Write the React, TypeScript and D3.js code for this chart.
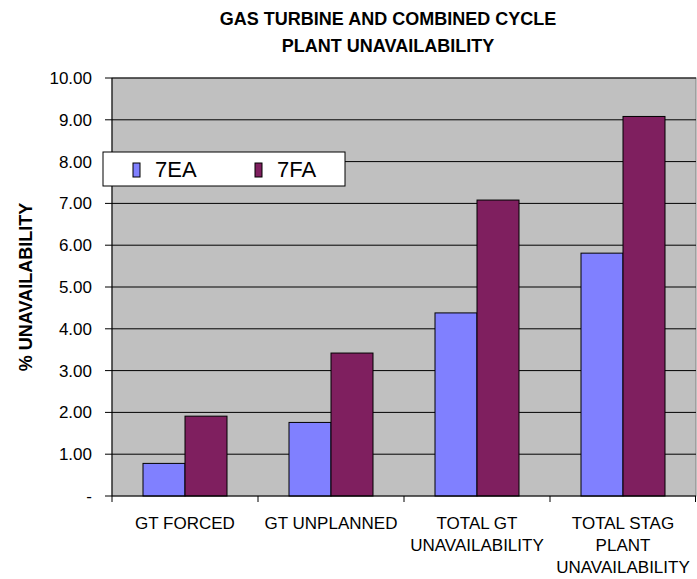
import React from 'react';
import * as d3 from 'd3';

// chart data
const categories = [['GT FORCED'], ['GT UNPLANNED'], ['TOTAL GT', 'UNAVAILABILITY'], ['TOTAL STAG', 'PLANT', 'UNAVAILABILITY']];
const seriesNames = ['7EA', '7FA'];
const values7EA = [0.78, 1.76, 4.38, 5.81];
const values7FA = [1.91, 3.42, 7.08, 9.08];
const yTicks = [0, 1, 2, 3, 4, 5, 6, 7, 8, 9, 10];
const colors = ['#8080FF', '#7F1F5F'];

const W = 697;
const H = 579;
const m = {left: 112, right: 1, top: 78, bottom: 83};
const font = 'Liberation Sans, Arial, sans-serif';

const App = () => {
    const x = d3.scaleBand<number>()
        .domain(d3.range(categories.length))
        .range([m.left, W - m.right]);
    const y = d3.scaleLinear().domain([0, 10]).range([H - m.bottom, m.top]);
    const bw = x.bandwidth() * 42 / 146;
    const seriesVals = [values7EA, values7FA];
    const fmt = (v: number) => (v === 0 ? '-' : d3.format('.2f')(v));

    return (
        <svg width={W} height={H} style={{position: 'absolute', left: 0, top: 0, background: '#fff'}} fontFamily={font}>
            <text x={388} y={25} textAnchor="middle" fontWeight="bold" fontSize={18}>GAS TURBINE AND COMBINED CYCLE</text>
            <text x={388} y={51.5} textAnchor="middle" fontWeight="bold" fontSize={18}>PLANT UNAVAILABILITY</text>

            {/* plot area */}
            <rect x={m.left} y={m.top} width={W - m.right - m.left} height={y(0) - m.top} fill="#C0C0C0" stroke="#808080" />
            {yTicks.filter(t => t > 0).map(t => (
                <line key={t} x1={m.left} x2={W - m.right} y1={y(t)} y2={y(t)} stroke="#000" />
            ))}

            {/* bars */}
            {categories.map((c, i) => {
                const x0 = (x(i) as number) + (x.bandwidth() - bw * 2) / 2;
                return seriesVals.map((vals, s) => (
                    <rect key={i + '-' + s} x={x0 + s * bw} y={y(vals[i])} width={bw} height={y(0) - y(vals[i])}
                          fill={colors[s]} stroke="#000" strokeWidth={1} />
                ));
            })}

            {/* y axis */}
            <line x1={m.left} x2={m.left} y1={m.top} y2={y(0)} stroke="#000" />
            {yTicks.map(t => (
                <g key={t}>
                    <line x1={m.left - 7} x2={m.left} y1={y(t)} y2={y(t)} stroke="#000" />
                    <text x={92} y={y(t) + 6} textAnchor="end" fontSize={17}>{fmt(t)}</text>
                </g>
            ))}
            <text transform={`translate(32,${(m.top + y(0)) / 2}) rotate(-90)`} textAnchor="middle" fontWeight="bold" fontSize={18}>% UNAVAILABILITY</text>

            {/* x axis */}
            <line x1={m.left} x2={W - m.right} y1={y(0)} y2={y(0)} stroke="#000" />
            {d3.range(categories.length + 1).map(i => {
                const xx = i < categories.length ? (x(i) as number) : W - m.right - 0.5;
                return <line key={i} x1={xx} x2={xx} y1={y(0)} y2={y(0) + 6} stroke="#000" />;
            })}
            {categories.map((lines, i) => (
                <text key={i} x={(x(i) as number) + x.bandwidth() / 2} textAnchor="middle" fontSize={17}>
                    {lines.map((l, j) => (
                        <tspan key={j} x={(x(i) as number) + x.bandwidth() / 2} y={529 + j * 22}>{l}</tspan>
                    ))}
                </text>
            ))}

            {/* legend */}
            <rect x={103} y={152} width={242} height={34} fill="#fff" stroke="#000" />
            {seriesNames.map((n, s) => (
                <g key={n} transform={`translate(${133 + s * 122},0)`}>
                    <rect x={0} y={163} width={7} height={14} fill={colors[s]} stroke="#000" />
                    <text x={22} y={177} fontSize={22}>{n}</text>
                </g>
            ))}
        </svg>
    );
};

export default App;
